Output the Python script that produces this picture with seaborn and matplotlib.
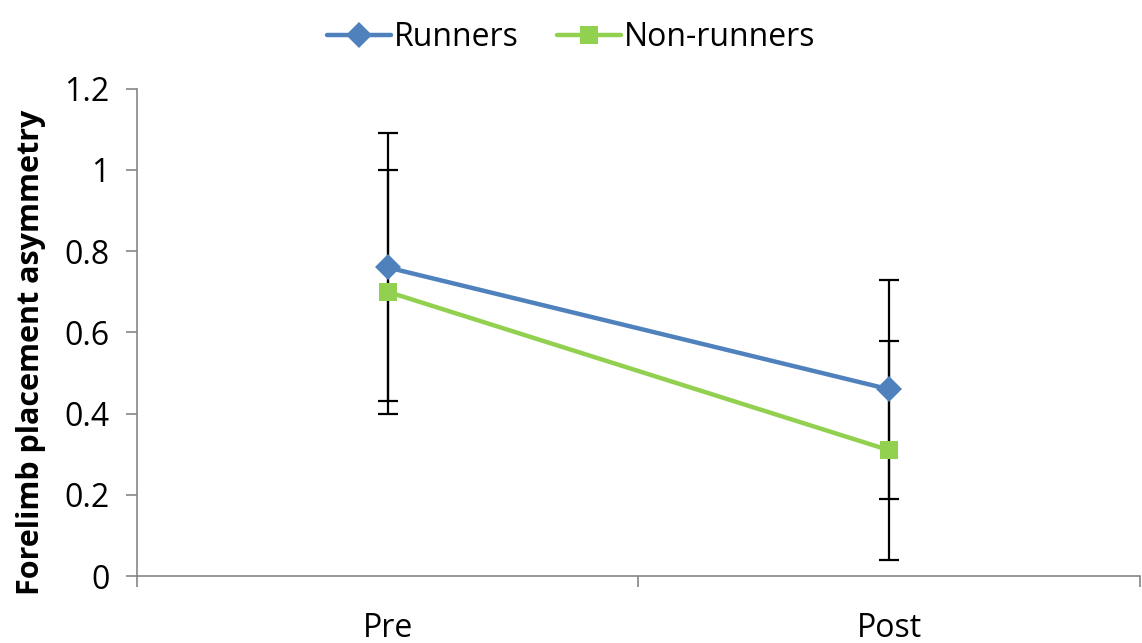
import pandas as pd
import numpy as np
import seaborn as sns
import matplotlib.pyplot as plt

# Data
timepoints = ['Pre', 'Post']
runners = [0.76, 0.46]
runners_err = [0.33, 0.27]
non_runners = [0.70, 0.31]
non_runners_err = [0.30, 0.27]

df = pd.DataFrame({
    'time': timepoints * 2,
    'value': runners + non_runners,
    'group': ['Runners'] * 2 + ['Non-runners'] * 2,
})

sns.set_style('white')
plt.rcParams['font.family'] = ['Open Sans', 'DejaVu Sans']
plt.rcParams['text.color'] = 'black'
plt.rcParams['axes.labelcolor'] = 'black'
plt.rcParams['xtick.color'] = 'black'
plt.rcParams['ytick.color'] = 'black'

fig = plt.figure(figsize=(11.42, 6.43), dpi=100)
ax = fig.add_axes([0.12, 0.104, 0.878, 0.758])

x = np.arange(len(timepoints))
# error bars sit behind the markers
ax.errorbar(x, runners, yerr=runners_err, fmt='none', ecolor='black',
            elinewidth=1.6, capsize=7, capthick=1.6, zorder=1)
ax.errorbar(x, non_runners, yerr=non_runners_err, fmt='none', ecolor='black',
            elinewidth=1.6, capsize=7, capthick=1.6, zorder=1)

palette = {'Runners': '#4F81BD', 'Non-runners': '#92D050'}
sns.lineplot(data=df, x='time', y='value', hue='group', style='group',
             markers={'Runners': 'D', 'Non-runners': 's'}, dashes=False,
             palette=palette, linewidth=3.2, markersize=13, markeredgewidth=0,
             ax=ax, zorder=3)

ax.set_xlim(-0.5, 1.5)
ax.set_ylim(0, 1.2)
ax.set_yticks(np.arange(0, 1.21, 0.2))
ax.set_yticklabels(['0', '0.2', '0.4', '0.6', '0.8', '1', '1.2'])
ax.set_xticks([-0.5, 0.5, 1.5])
ax.set_xticklabels([])
ax.set_xticks(x, minor=True)
ax.set_xticklabels(timepoints, minor=True)
ax.tick_params(axis='x', which='minor', bottom=True, length=0, pad=26,
               labelsize=23, labelcolor='black')
ax.tick_params(axis='x', which='major', bottom=True, length=8, width=1.2,
               color='#868686', direction='out')
ax.tick_params(axis='y', left=True, length=8, width=1.2, color='#868686',
               direction='out', labelsize=23, pad=12, labelcolor='black')

for side in ['top', 'right']:
    ax.spines[side].set_visible(False)
for side in ['left', 'bottom']:
    ax.spines[side].set_color('#868686')
    ax.spines[side].set_linewidth(1.2)

ax.set_xlabel('')
ax.set_ylabel('Forelimb placement asymmetry', fontsize=22, fontweight='bold',
              labelpad=12, color='black')
ax.yaxis.set_label_coords(-0.091, 0.46)

handles, labels = ax.get_legend_handles_labels()
for h in handles:
    h.set_markersize(13)
    h.set_markeredgewidth(0)
leg = ax.legend(handles, labels, loc='lower center', bbox_to_anchor=(0.433, 1.045), ncol=2,
                frameon=False, fontsize=23, handlelength=2.0, handletextpad=0.1,
                columnspacing=1.2, borderaxespad=0)
for t in leg.get_texts():
    t.set_color('black')

fig.savefig('out.png', dpi=100)
